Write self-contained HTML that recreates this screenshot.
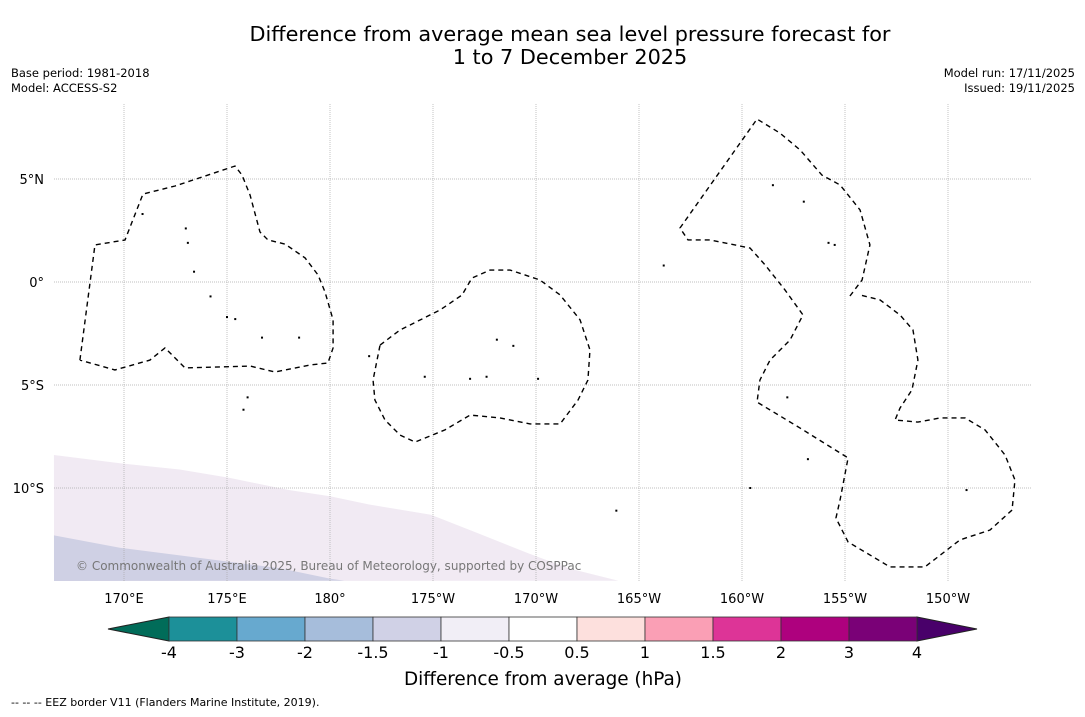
<!DOCTYPE html>
<html><head><meta charset="utf-8"><style>
body{margin:0;background:#fff;font-family:"DejaVu Sans","Liberation Sans",sans-serif}
svg text{font-family:"DejaVu Sans","Liberation Sans",sans-serif}
</style></head><body>
<svg id="chart" width="1085" height="713" xmlns="http://www.w3.org/2000/svg">
<rect width="1085" height="713" fill="#fff"/>
<text x="570" y="41" font-size="20.8" text-anchor="middle">Difference from average mean sea level pressure forecast for</text>
<text x="570" y="64" font-size="20.8" text-anchor="middle">1 to 7 December 2025</text>
<text x="11" y="77" font-size="11.5">Base period: 1981-2018</text>
<text x="11" y="92" font-size="11.5">Model: ACCESS-S2</text>
<text x="1075" y="77" font-size="11.5" text-anchor="end">Model run: 17/11/2025</text>
<text x="1075" y="92" font-size="11.5" text-anchor="end">Issued: 19/11/2025</text>
<g id="map"></g>
<g id="cbar"></g>
<text x="543" y="685" font-size="18.4" text-anchor="middle">Difference from average (hPa)</text>
<text x="11" y="706" font-size="11">--  --  -- EEZ border V11 (Flanders Marine Institute, 2019).</text>
</svg>
<script>
const lonTicks=[170,175,180,185,190,195,200,205,210];
const lonLabels=["170°E","175°E","180°","175°W","170°W","165°W","160°W","155°W","150°W"];
const latTicks=[5,0,-5,-10];
const latLabels=["5°N","0°","5°S","10°S"];
const lavenderEdge=[[166.6,-8.4],[169.8,-8.8],[172.7,-9.1],[175.1,-9.5],[178.0,-10.1],[180.0,-10.4],[181.9,-10.8],[184.9,-11.3],[187.2,-12.2],[189.7,-13.2],[191.6,-13.9],[194.0,-14.5]];
const blueEdge=[[166.6,-12.3],[169.8,-12.9],[173.7,-13.4],[177.6,-13.9],[180.0,-14.4],[180.7,-14.5]];
const eezTuvaluKiribati=[[167.86,-3.79],[168.59,1.80],[170.05,2.04],[170.92,4.27],[172.48,4.66],[175.39,5.63],[175.73,5.19],[176.12,4.22],[176.60,2.43],[176.99,2.04],[177.82,1.84],[178.79,1.17],[179.42,0.34],[179.76,-0.49],[180.15,-1.84],[180.15,-3.20],[179.90,-3.93],[179.03,-4.03],[177.33,-4.37],[176.12,-4.08],[172.96,-4.17],[171.99,-3.20],[171.26,-3.79],[169.56,-4.27],[167.86,-3.79]];
const eezPhoenix=[[182.43,-3.06],[183.40,-2.33],[185.34,-1.36],[186.41,-0.63],[186.89,0.19],[187.77,0.58],[188.74,0.58],[190.19,0.10],[191.17,-0.63],[192.14,-1.84],[192.62,-3.30],[192.52,-4.76],[192.04,-5.73],[191.17,-6.89],[189.71,-6.89],[188.25,-6.60],[186.80,-6.46],[185.58,-7.18],[184.13,-7.77],[183.40,-7.43],[182.67,-6.70],[182.18,-5.73],[182.09,-4.76],[182.43,-3.06]];
const eezLine=[[205.24,-0.68],[205.83,0.10],[206.21,1.80],[205.73,3.50],[204.76,4.71],[203.88,5.19],[202.82,6.41],[201.84,7.23],[200.73,7.91],[196.99,2.62],[197.38,2.04],[198.45,2.04],[200.39,1.65],[201.12,0.83],[202.09,-0.39],[202.96,-1.60],[202.33,-2.82],[201.36,-3.79],[200.87,-4.76],[200.73,-5.83],[202.82,-7.09],[205.15,-8.54],[204.76,-10.58],[204.56,-11.46],[205.15,-12.62],[207.18,-13.83],[208.88,-13.83],[210.58,-12.52],[212.04,-12.04],[213.11,-11.07],[213.25,-9.61],[212.77,-8.40],[211.80,-7.18],[210.83,-6.60],[209.61,-6.60],[208.54,-6.80],[207.43,-6.70],[207.67,-6.12],[208.25,-5.24],[208.54,-3.79],[208.30,-2.33],[207.67,-1.60],[206.70,-0.87],[205.73,-0.63]];
const islands=[[170.9,3.3],[173.0,2.6],[173.1,1.9],[173.4,0.5],[174.2,-0.7],[175.0,-1.7],[175.4,-1.8],[176.7,-2.7],[178.5,-2.7],[176.0,-5.6],[175.8,-6.2],[181.9,-3.6],[188.1,-2.8],[188.9,-3.1],[187.6,-4.6],[186.8,-4.7],[190.1,-4.7],[184.6,-4.6],[193.9,-11.1],[200.4,-10.0],[203.2,-8.6],[202.2,-5.6],[210.9,-10.1],[196.2,0.8],[203.0,3.9],[201.5,4.7],[204.2,1.9],[204.5,1.8]];
const x0=54,x1=1031,y0=104,y1=581;
const X=lon=>124+(lon-170)*20.6, Y=lat=>282-lat*20.6;
const NS='http://www.w3.org/2000/svg';
const map=document.getElementById('map');
function mk(tag,attrs,parent){const e=document.createElementNS(NS,tag);for(const k in attrs)e.setAttribute(k,attrs[k]);(parent||map).appendChild(e);return e;}
let d='M'+lavenderEdge.map(p=>X(p[0])+','+Y(p[1])).join(' L')+' L'+x0+','+y1+' Z';
let e=mk('path',{d:d,fill:'#f1eaf3'});


d='M'+blueEdge.map(p=>X(p[0])+','+Y(p[1])).join(' L')+' L'+x0+','+y1+' Z';
e=mk('path',{d:d,fill:'#cfd0e4'});


lonTicks.forEach((l,i)=>{
 let g=mk('line',{x1:X(l),x2:X(l),y1:y0,y2:y1,stroke:'#aaa','stroke-width':0.7,'stroke-dasharray':'1,1'});
 
 
 let t=mk('text',{x:X(l),y:603,'font-size':13,'text-anchor':'middle'});t.textContent=lonLabels[i];
 
 
});
latTicks.forEach((l,i)=>{
 let g=mk('line',{x1:x0,x2:x1,y1:Y(l),y2:Y(l),stroke:'#aaa','stroke-width':0.7,'stroke-dasharray':'1,1'});
 
 
 let t=mk('text',{x:44,y:Y(l)+5,'font-size':13,'text-anchor':'end'});t.textContent=latLabels[i];
 
 
});
islands.forEach(p=>{
 let c=mk('rect',{x:X(p[0])-1,y:Y(p[1])-1,width:2,height:2,fill:'#000'});
 
 
});
[[eezTuvaluKiribati,'eez-border-kiribati-gilbert'],[eezPhoenix,'eez-border-phoenix'],[eezLine,'eez-border-line-islands']].forEach(([pts,n])=>{
 let p=mk('path',{d:'M'+pts.map(q=>X(q[0])+','+Y(q[1])).join(' L'),fill:'none',stroke:'#000','stroke-width':1.4,'stroke-dasharray':'5,4'});
 
 
});
let ct=mk('text',{x:76,y:570,'font-size':12,fill:'#777'});ct.textContent='© Commonwealth of Australia 2025, Bureau of Meteorology, supported by COSPPac';


const cbLabels=["-4","-3","-2","-1.5","-1","-0.5","0.5","1","1.5","2","3","4"];
const cbColors=["#1c9099","#67a9cf","#a6bddb","#d0d1e6","#f1eef6","#ffffff","#fde0dd","#fa9fb5","#dd3497","#ae017e","#7a0177"];
const cb=document.getElementById('cbar');
const bx=169,bw=68,by=617,bh=24;
let tl=mk('polygon',{points:`${bx},${by} 108,${by+bh/2} ${bx},${by+bh}`,fill:'#016c59',stroke:'#222','stroke-width':1},cb);


let tr=mk('polygon',{points:`${bx+11*bw},${by} 977,${by+bh/2} ${bx+11*bw},${by+bh}`,fill:'#49006a',stroke:'#222','stroke-width':1},cb);


cbColors.forEach((c,i)=>{
 let r=mk('rect',{x:bx+i*bw,y:by,width:bw,height:bh,fill:c,stroke:'#333','stroke-width':0.8},cb);
 
 
});
cbLabels.forEach((l,i)=>{
 let t=mk('text',{x:bx+i*bw,y:658,'font-size':16,'text-anchor':'middle'},cb);t.textContent=l;
 
 
});
</script>
</body></html>
